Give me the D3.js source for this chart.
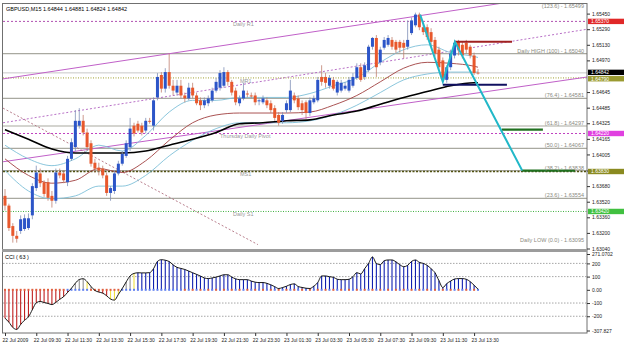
<!DOCTYPE html>
<html>
<head>
<meta charset="utf-8">
<script src="https://cdn.jsdelivr.net/npm/d3@7"></script>
<style>
body { margin: 0; background: #fff; }
text { font-family: "Liberation Sans", Arial, sans-serif; font-size: 5.5px; }
</style>
</head>
<body>
<div id="chart"></div>
<script>
// M15 candles, [open, high, low, close]
var candles = [
  [1.6358,1.6365,1.6343,1.6348],[1.6348,1.6350,1.6322,1.6325],[1.6327,1.6330,1.6310,1.6317],[1.6317,1.6322,1.6310,1.6314],
  [1.6322,1.6338,1.6319,1.6334],[1.6324,1.6339,1.6322,1.6335],[1.6325,1.6340,1.6323,1.6335],[1.6338,1.6371,1.6334,1.6368],
  [1.6366,1.6389,1.6363,1.6382],[1.6381,1.6386,1.6367,1.6371],[1.6372,1.6374,1.6357,1.6360],[1.6372,1.6376,1.6353,1.6356],
  [1.6358,1.6363,1.6346,1.6353],[1.6353,1.6386,1.6350,1.6382],[1.6382,1.6386,1.6376,1.6379],[1.6381,1.6384,1.6371,1.6374],
  [1.6372,1.6399,1.6368,1.6396],[1.6396,1.6417,1.6394,1.6413],[1.6408,1.6446,1.6404,1.6435],[1.6430,1.6448,1.6427,1.6435],
  [1.6435,1.6441,1.6420,1.6423],[1.6423,1.6427,1.6404,1.6408],[1.6412,1.6415,1.6388,1.6391],[1.6392,1.6396,1.6382,1.6386],
  [1.6387,1.6392,1.6379,1.6384],[1.6386,1.6389,1.6376,1.6379],[1.6379,1.6382,1.6358,1.6361],[1.6361,1.6368,1.6353,1.6366],
  [1.6363,1.6384,1.6360,1.6381],[1.6381,1.6394,1.6379,1.6391],[1.6391,1.6404,1.6389,1.6401],[1.6399,1.6415,1.6397,1.6412],
  [1.6408,1.6438,1.6404,1.6427],[1.6430,1.6433,1.6419,1.6422],[1.6432,1.6435,1.6423,1.6425],[1.6430,1.6433,1.6420,1.6423],
  [1.6425,1.6438,1.6422,1.6435],[1.6435,1.6438,1.6432,1.6434],[1.6430,1.6459,1.6425,1.6456],[1.6459,1.6484,1.6456,1.6480],
  [1.6482,1.6485,1.6464,1.6468],[1.6468,1.6489,1.6464,1.6485],[1.6485,1.6504,1.6468,1.6471],[1.6471,1.6477,1.6461,1.6466],
  [1.6464,1.6477,1.6461,1.6471],[1.6471,1.6477,1.6458,1.6461],[1.6461,1.6464,1.6454,1.6458],[1.6458,1.6474,1.6456,1.6469],
  [1.6469,1.6474,1.6458,1.6461],[1.6461,1.6464,1.6451,1.6453],[1.6456,1.6459,1.6446,1.6451],[1.6451,1.6459,1.6448,1.6456],
  [1.6453,1.6461,1.6450,1.6458],[1.6456,1.6469,1.6454,1.6466],[1.6466,1.6479,1.6464,1.6475],[1.6469,1.6487,1.6466,1.6484],
  [1.6471,1.6490,1.6469,1.6485],[1.6485,1.6487,1.6471,1.6475],[1.6475,1.6477,1.6461,1.6464],[1.6466,1.6469,1.6451,1.6454],
  [1.6453,1.6461,1.6450,1.6458],[1.6458,1.6474,1.6456,1.6466],[1.6463,1.6466,1.6459,1.6462],[1.6461,1.6464,1.6458,1.6460],
  [1.6461,1.6464,1.6451,1.6454],[1.6455,1.6458,1.6451,1.6456],[1.6454,1.6461,1.6452,1.6458],[1.6456,1.6459,1.6448,1.6451],
  [1.6453,1.6456,1.6443,1.6446],[1.6448,1.6451,1.6435,1.6438],[1.6441,1.6444,1.6430,1.6433],[1.6435,1.6444,1.6432,1.6441],
  [1.6446,1.6456,1.6443,1.6453],[1.6446,1.6477,1.6444,1.6466],[1.6461,1.6464,1.6453,1.6456],[1.6458,1.6461,1.6446,1.6449],
  [1.6453,1.6456,1.6441,1.6446],[1.6454,1.6456,1.6437,1.6443],[1.6443,1.6459,1.6440,1.6456],[1.6454,1.6461,1.6452,1.6458],
  [1.6456,1.6480,1.6454,1.6477],[1.6480,1.6492,1.6471,1.6475],[1.6480,1.6484,1.6469,1.6474],[1.6471,1.6482,1.6468,1.6479],
  [1.6477,1.6480,1.6466,1.6468],[1.6464,1.6477,1.6461,1.6475],[1.6466,1.6477,1.6464,1.6474],[1.6468,1.6475,1.6466,1.6471],
  [1.6466,1.6480,1.6464,1.6477],[1.6471,1.6484,1.6469,1.6480],[1.6479,1.6494,1.6477,1.6490],[1.6490,1.6494,1.6475,1.6477],
  [1.6480,1.6495,1.6477,1.6492],[1.6487,1.6513,1.6485,1.6511],[1.6511,1.6521,1.6508,1.6520],[1.6520,1.6523,1.6480,1.6490],
  [1.6495,1.6511,1.6492,1.6508],[1.6510,1.6521,1.6508,1.6518],[1.6513,1.6523,1.6511,1.6520],[1.6518,1.6521,1.6508,1.6511],
  [1.6516,1.6518,1.6504,1.6508],[1.6516,1.6518,1.6505,1.6510],[1.6515,1.6518,1.6499,1.6510],[1.6511,1.6538,1.6508,1.6518],
  [1.6525,1.6541,1.6523,1.6538],[1.6533,1.6546,1.6531,1.6544],[1.6544,1.6546,1.6528,1.6531],[1.6531,1.6535,1.6523,1.6526],
  [1.6531,1.6534,1.6518,1.6521],[1.6526,1.6530,1.6512,1.6516],[1.6518,1.6521,1.6501,1.6504],[1.6508,1.6511,1.6487,1.6490],
  [1.6497,1.6500,1.6475,1.6477],[1.6477,1.6492,1.6474,1.6490],[1.6490,1.6508,1.6487,1.6504],[1.6502,1.6518,1.6499,1.6515],
  [1.6516,1.6518,1.6502,1.6508],[1.6513,1.6516,1.6499,1.6502],[1.6515,1.6518,1.6504,1.6508],[1.6511,1.6513,1.6499,1.6502],
  [1.6502,1.6505,1.6482,1.6484],[1.64844,1.64881,1.64824,1.64842]
];

// moving averages sampled at these bar indices
var maIdx = [0,6,12,18,24,30,36,42,48,54,60,66,72,78,84,90,96,102,108,114,120,121];
var maSlow = [1.6426,1.6416,1.6406,1.6402,1.6402,1.6402,1.6404,1.6410,1.6416,1.6423,1.6432,1.6433,1.6435,1.6436,1.6441,1.6445,1.6452,1.6459,1.6465,1.6471,1.6474,1.6474];
var bandUpper = [1.6410,1.6396,1.6389,1.6396,1.6410,1.6404,1.6420,1.6444,1.6456,1.6456,1.6459,1.6459,1.6459,1.6463,1.6471,1.6479,1.6495,1.6508,1.6513,1.6505,1.6501,1.6500];
var maMid = [1.6396,1.6379,1.6371,1.6374,1.6386,1.6382,1.6394,1.6415,1.6433,1.6441,1.6443,1.6443,1.6443,1.6444,1.6451,1.6461,1.6475,1.6489,1.6495,1.6494,1.6491,1.6490];
var bandLower = [1.6384,1.6363,1.6355,1.6358,1.6368,1.6368,1.6379,1.6399,1.6415,1.6427,1.6433,1.6433,1.6433,1.6435,1.6441,1.6451,1.6464,1.6477,1.6483,1.6485,1.6485,1.6485];

// CCI(63), one value per bar
var cci = [
  -215,-245,-285,-300,-262,-230,-205,-150,-98,-88,-96,-103,-112,-95,-72,-52,-20,12,50,78,
  84,62,25,-5,-17,-25,-45,-70,-78,-35,10,60,105,124,129,128,128,130,160,215,
  228,224,214,189,170,162,154,142,129,117,104,90,85,90,96,105,114,114,97,83,
  77,77,77,66,58,55,55,49,38,24,10,17,27,40,45,25,18,12,10,28,
  55,105,105,99,95,80,77,77,80,99,130,120,160,200,249,200,190,220,226,226,
  212,190,175,185,215,226,208,200,185,160,129,70,17,47,66,82,85,85,80,62,
  35,5
];
var cciGray = [17,18,19,20,22,30,31,32];
var cciYellow = [21,27,28,29,33];
var cciLevels = [200,100,-100,-200];

// 1.64805 sits under the price boxes, so it is left out
var priceTicks = [1.65450,1.65290,1.65130,1.64970,1.64645,1.64485,1.64325,1.64165,1.64005,1.63840,1.63680,1.63520,1.63360,1.63200,1.63040];
var cciTicks = [271.0702,200,100,0,-100,-200,-307.827];
var cciTickLabels = ["271.0702","200","100","0.00","-100","-200","-307.827"];
var timeLabels = ["22 Jul 2009","22 Jul 09:30","22 Jul 11:30","22 Jul 13:30","22 Jul 15:30","22 Jul 17:30","22 Jul 19:30","22 Jul 21:30",
  "22 Jul 23:30","23 Jul 01:30","23 Jul 03:30","23 Jul 05:30","23 Jul 07:30","23 Jul 09:30","23 Jul 11:30","23 Jul 13:30"];

// pivot levels
var levelNames = ["Daily R1","MR1","Thursday Daily Pivot","MS1","Daily S1"];
var levelValues = [1.6537,1.6479,1.6422,1.6383,1.6342];

// fibonacci from daily low to daily high
var fibLow = 1.63095, fibHigh = 1.65040;
var fibRatios = [123.6,100,76.4,61.8,50.0,38.2,23.6,0.0];

// trend lines, [barIndex, price] end points
var channelUpper = [[-0.5,1.6478],[149,1.6569]];
var channelMid = [[-0.5,1.6433],[149,1.6529]];
var channelLower = [[-0.5,1.6393],[149,1.6480]];
var trendDown = [[-0.5,1.6448],[64.7,1.6308]];
var zigzag = [[106.2,1.6544],[112,1.6475],[115.1,1.6516],[132.3,1.6384]];
var resistLine = [[115.1,1.6516],[129.7,1.6516]];
var supportLine = [[112,1.6472],[128.4,1.6472]];
var target1 = [[127.1,1.6426],[137.6,1.6426]];
var target2 = [[132.3,1.6384],[145.8,1.6384]];

var W = 625, H = 344;
var L = 3, R = 587, mainTop = 4, mainBot = 249, cciTop = 252, cciBot = 333;

var svg = d3.select('#chart').append('svg')
    .attr('width', W)
    .attr('height', H);
svg.append('rect').attr('width', W).attr('height', H).attr('fill', '#fff');

var x = d3.scaleLinear().domain([0, candles.length - 1]).range([5, 478]);
var y = d3.scaleLinear().domain([1.63040, 1.65450]).range([248.5, 13.6]);
var yc = d3.scaleLinear().domain([-307.827, 271.0702]).range([330.5, 254]);

var defs = svg.append('defs');
defs.append('clipPath').attr('id', 'mainClip').append('rect')
    .attr('x', L).attr('y', mainTop).attr('width', R - L).attr('height', mainBot - mainTop);
defs.append('clipPath').attr('id', 'cciClip').append('rect')
    .attr('x', L).attr('y', cciTop).attr('width', R - L).attr('height', cciBot - cciTop);

var main = svg.append('g').attr('clip-path', 'url(#mainClip)');

function hline(g, v, color, width, dash) {
    g.append('line')
        .attr('x1', L).attr('x2', R)
        .attr('y1', y(v)).attr('y2', y(v))
        .attr('stroke', color).attr('stroke-width', width)
        .attr('stroke-dasharray', dash || null);
}

// fib lines
var fibs = fibRatios.map(function(r) { return fibLow + r / 100 * (fibHigh - fibLow); });
fibs.forEach(function(v, i) {
    if (fibRatios[i] === 123.6 || fibRatios[i] === 0) return;
    hline(main, v, '#a9a9a0', 1.2);
});

// current price line
hline(main, candles[candles.length - 1][3], '#c8c8c8', 1);

// pivots
var levelStyle = [
    { c: '#b050b0', w: 1, d: '2,2' },
    { c: '#a0a030', w: 1, d: '1,1.5' },
    { c: '#c040c0', w: 1, d: '2,2' },
    { c: '#505010', w: 1.3, d: '2,1.5' },
    { c: '#40b040', w: 1, d: '1,1.5' }
];
levelValues.forEach(function(v, i) {
    hline(main, v, levelStyle[i].c, levelStyle[i].w, levelStyle[i].d);
});

var tl = d3.line().x(function(d) { return x(d[0]); }).y(function(d) { return y(d[1]); });

main.append('path').attr('d', tl(channelUpper)).attr('fill', 'none').attr('stroke', '#c060c8').attr('stroke-width', 1);
main.append('path').attr('d', tl(channelLower)).attr('fill', 'none').attr('stroke', '#c060c8').attr('stroke-width', 1);
main.append('path').attr('d', tl(channelMid)).attr('fill', 'none').attr('stroke', '#b060c0').attr('stroke-width', 0.9).attr('stroke-dasharray', '2,2');
main.append('path').attr('d', tl(trendDown)).attr('fill', 'none').attr('stroke', '#b07080').attr('stroke-width', 0.9).attr('stroke-dasharray', '2,2');

// moving averages
var maLine = d3.line()
    .x(function(d, i) { return x(maIdx[i]); })
    .y(function(d) { return y(d); })
    .curve(d3.curveMonotoneX);
[[bandUpper, '#7ec0d8', 0.9], [bandLower, '#7ec0d8', 0.9], [maMid, '#a04040', 0.9], [maSlow, '#000', 1.6]].forEach(function(m) {
    main.append('path').attr('d', maLine(m[0])).attr('fill', 'none')
        .attr('stroke', m[1]).attr('stroke-width', m[2]);
});

// candles
var cg = main.append('g');
var cd = cg.selectAll('g.c').data(candles).enter().append('g');
cd.append('line')
    .attr('x1', function(d, i) { return x(i); })
    .attr('x2', function(d, i) { return x(i); })
    .attr('y1', function(d) { return y(d[1]); })
    .attr('y2', function(d) { return y(d[2]); })
    .attr('stroke', function(d) { return d[3] >= d[0] ? '#8090b8' : '#c08070'; })
    .attr('stroke-width', 0.8);
cd.append('rect')
    .attr('x', function(d, i) { return x(i) - 1.5; })
    .attr('width', 3)
    .attr('y', function(d) { return y(Math.max(d[0], d[3])); })
    .attr('height', function(d) { return Math.max(0.8, Math.abs(y(d[0]) - y(d[3]))); })
    .attr('fill', function(d) { return d[3] >= d[0] ? '#2c55c8' : '#e8582c'; });

// drawn objects
main.append('path').attr('d', tl(supportLine)).attr('stroke', '#101060').attr('stroke-width', 2);
main.append('path').attr('d', tl(resistLine)).attr('stroke', '#a02020').attr('stroke-width', 2);
main.append('path').attr('d', tl(target1)).attr('stroke', '#207020').attr('stroke-width', 2.2);
main.append('path').attr('d', tl(target2)).attr('stroke', '#207020').attr('stroke-width', 2.2);
main.append('path').attr('d', tl(zigzag)).attr('fill', 'none').attr('stroke', '#22b8c8').attr('stroke-width', 2);

// texts on chart
var lvlLabelX = [233, 240, 220, 240, 233];
levelNames.forEach(function(n, i) {
    main.append('text').attr('x', lvlLabelX[i]).attr('y', y(levelValues[i]) + 5)
        .attr('fill', '#9a9a9a').text(n);
});
var fibNames = fibRatios.map(function(r, i) {
    var r1 = '(' + r.toFixed(1) + ') - ' + fibs[i].toFixed(5);
    if (r === 100) return 'Daily HIGH ' + r1.replace('(100.0)', '(100)');
    if (r === 0) return 'Daily LOW ' + r1;
    return r1;
});
fibNames.forEach(function(n, i) {
    main.append('text').attr('x', 584).attr('y', y(fibs[i]) - 1)
        .attr('text-anchor', 'end').attr('fill', '#8a8a80').text(n);
});

svg.append('text').attr('x', 6).attr('y', 11).attr('fill', '#000')
    .text('GBPUSD,M15  1.64844 1.64881 1.64824 1.64842');

// CCI panel
var cp = svg.append('g').attr('clip-path', 'url(#cciClip)');
cciLevels.forEach(function(v) {
    cp.append('line').attr('x1', L).attr('x2', R).attr('y1', yc(v)).attr('y2', yc(v))
        .attr('stroke', '#909090').attr('stroke-width', 0.8).attr('stroke-dasharray', '1.5,1.5');
});
function cciColor(d, i) {
    if (cciGray.indexOf(i) >= 0) return '#909090';
    if (cciYellow.indexOf(i) >= 0) return '#f0e040';
    return d < 0 ? '#c02020' : '#1020b0';
}
cp.selectAll('line.h').data(cci).enter().append('line')
    .attr('x1', function(d, i) { return x(i); })
    .attr('x2', function(d, i) { return x(i); })
    .attr('y1', yc(0))
    .attr('y2', function(d) { return yc(d); })
    .attr('stroke', cciColor).attr('stroke-width', 1.1);
cp.selectAll('rect.z').data(cci).enter().append('rect')
    .attr('x', function(d, i) { return x(i) - 1; })
    .attr('y', yc(0) - 1)
    .attr('width', 2).attr('height', 2)
    .attr('fill', function(d, i) { return (i < 16 || (i > 21 && i < 30) || (i > 44 && i % 2 === 0)) ? '#e06040' : '#6080f0'; });
cp.append('path')
    .attr('d', d3.line().x(function(d, i) { return x(i); }).y(function(d) { return yc(d); }).curve(d3.curveMonotoneX)(cci))
    .attr('fill', 'none').attr('stroke', '#000').attr('stroke-width', 0.9);
svg.append('text').attr('x', 5).attr('y', 259).attr('fill', '#000').text('CCI ( 63 )');

// frames
svg.append('rect').attr('x', 2.5).attr('y', 3.5).attr('width', R - 2.5).attr('height', cciBot - 3.5)
    .attr('fill', 'none').attr('stroke', '#707070').attr('stroke-width', 1);
svg.append('line').attr('x1', 2).attr('x2', R).attr('y1', 250.5).attr('y2', 250.5)
    .attr('stroke', '#9c9c9c').attr('stroke-width', 3);

// axes
var ya = svg.append('g').attr('transform', 'translate(' + R + ',0)')
    .call(d3.axisRight(y).tickValues(priceTicks).tickSize(3).tickPadding(2).tickFormat(d3.format('.5f')));
var ca = svg.append('g').attr('transform', 'translate(' + R + ',0)')
    .call(d3.axisRight(yc).tickValues(cciTicks).tickSize(3).tickPadding(2)
        .tickFormat(function(d, i) { return cciTickLabels[i]; }));
var xa = svg.append('g').attr('transform', 'translate(0,' + cciBot + ')')
    .call(d3.axisBottom(x).tickValues(d3.range(0, 121, 8)).tickSize(3).tickPadding(2)
        .tickFormat(function(d, i) { return timeLabels[i]; }));
xa.selectAll('text').attr('text-anchor', 'start').attr('dx', '-3');
[ya, ca, xa].forEach(function(a) {
    a.select('.domain').remove();
    a.selectAll('text').style('font-size', '5px').style('font-family', '"Liberation Sans", Arial, sans-serif').attr('fill', '#222');
    a.selectAll('line').attr('stroke', '#333');
});

// price boxes on the right axis
var boxes = [
    { v: levelValues[0], fill: '#e02828', tc: '#fff' },
    { v: candles[candles.length - 1][3], fill: '#000', tc: '#fff' },
    { v: levelValues[1], fill: '#9a9a30', tc: '#fff' },
    { v: levelValues[2], fill: '#e040e0', tc: '#fff' },
    { v: levelValues[3], fill: '#8a8a20', tc: '#fff' },
    { v: levelValues[4], fill: '#40c040', tc: '#fff' }
];
boxes.forEach(function(b, i) {
    var by = y(b.v) + (i === 1 ? -0.5 : i === 2 ? 0.8 : 0);
    svg.append('rect').attr('x', R + 1).attr('y', by - 2.7).attr('width', 36).attr('height', 5.4)
        .attr('fill', b.fill);
    svg.append('text').attr('x', R + 4).attr('y', by + 1.8).attr('fill', b.tc)
        .style('font-size', '5px')
        .text(d3.format('.5f')(b.v));
});
</script>
</body>
</html>
